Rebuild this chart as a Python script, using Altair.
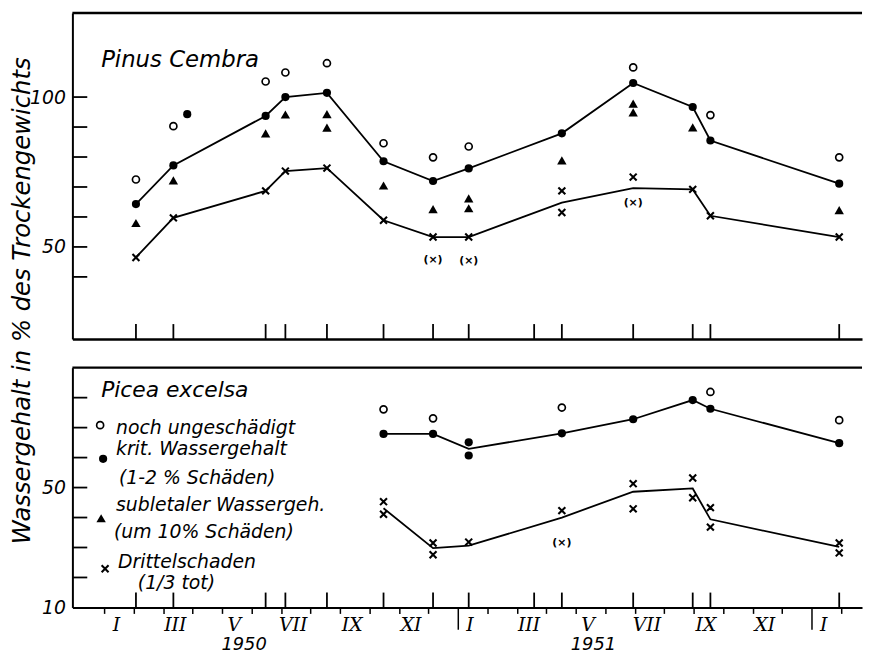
import altair as alt
import pandas as pd

# ---------------- data (x = months after 1 Jan 1950) ----------------
sample_months = [1.08, 2.35, 5.48, 6.15, 7.56, 9.48, 11.16, 12.37, 14.59, 15.53, 17.95, 19.97, 20.57, 24.94]

# Pinus cembra
pin_line_months = [1.08, 2.35, 5.48, 6.15, 7.56, 9.48, 11.16, 12.37, 15.53, 17.95, 19.97, 20.57, 24.94]
pin_krit_line = [64.3, 77.2, 93.7, 100.0, 101.4, 78.6, 72.0, 76.2, 87.9, 104.7, 96.7, 85.5, 71.1]
pin_drittel_line = [46.5, 59.7, 68.7, 75.3, 76.3, 58.9, 53.3, 53.3, 64.8, 69.6, 69.2, 60.4, 53.3]
pin_open_months = [1.08, 2.35, 5.48, 6.15, 7.56, 9.48, 11.16, 12.37, 17.95, 20.57, 24.94]
pin_open_values = [72.5, 90.3, 105.2, 108.2, 111.3, 84.6, 79.9, 83.5, 109.9, 94.0, 79.9]
pin_filled_months = [1.08, 2.35, 2.82, 5.48, 6.15, 7.56, 9.48, 11.16, 12.37, 15.53, 17.95, 19.97, 20.57, 24.94]
pin_filled_values = [64.3, 77.2, 94.3, 93.7, 100.0, 101.4, 78.6, 72.0, 76.2, 87.9, 104.7, 96.7, 85.5, 71.1]
pin_tri_months = [1.08, 2.35, 5.48, 6.15, 7.56, 7.56, 9.48, 11.16, 12.37, 12.37, 15.53, 17.95, 17.95, 19.97, 24.94]
pin_tri_values = [58.0, 72.2, 87.9, 94.2, 94.3, 89.8, 70.5, 62.6, 66.2, 62.9, 78.9, 97.8, 94.9, 89.9, 62.3]
pin_cross_months = [1.08, 2.35, 5.48, 6.15, 7.56, 9.48, 11.16, 12.37, 15.53, 15.53, 17.95, 19.97, 20.57, 24.94]
pin_cross_values = [46.5, 59.7, 68.7, 75.3, 76.3, 58.9, 53.3, 53.3, 68.7, 61.5, 73.3, 69.2, 60.4, 53.3]
pin_paren_months = [11.16, 12.37, 17.95]
pin_paren_values = [45.6, 45.3, 64.6]

# Picea excelsa
pic_line_months = [9.48, 11.16, 12.37, 15.53, 17.95, 19.97, 20.57, 24.94]
pic_krit_line = [67.9, 67.9, 62.9, 68.1, 72.8, 79.2, 76.3, 64.8]
pic_drittel_line = [43.1, 29.8, 30.6, 40.0, 48.6, 49.7, 39.4, 30.2]
pic_open_months = [9.48, 11.16, 15.53, 20.57, 24.94]
pic_open_values = [76.1, 73.1, 76.7, 81.9, 72.5]
pic_filled_months = [9.48, 11.16, 12.37, 12.37, 15.53, 17.95, 19.97, 20.57, 24.94]
pic_filled_values = [67.9, 67.9, 65.1, 60.7, 68.1, 72.8, 79.2, 76.3, 64.8]
pic_cross_months = [9.48, 9.48, 11.16, 11.16, 12.37, 15.53, 17.95, 17.95, 19.97, 19.97, 20.57, 20.57, 24.94, 24.94]
pic_cross_values = [45.3, 41.1, 31.5, 27.6, 31.8, 42.3, 51.3, 42.9, 53.2, 46.6, 43.3, 36.8, 31.5, 28.2]
pic_paren_months = [15.53]
pic_paren_values = [31.5]

# axis ticks / labels
pin_inner_ticks = [40, 50, 60, 70, 80, 90, 100]
pic_inner_ticks = [20, 30, 40, 50, 60, 70, 80]
month_bounds = list(range(0, 26))
roman_labels = ["I", "III", "V", "VII", "IX", "XI", "I", "III", "V", "VII", "IX", "XI", "I"]
roman_months = [0.5 + 2 * i for i in range(13)]
year_labels = ["1950", "1951"]
year_months = [4.75, 16.6]

# ---------------- layout ----------------
W = 797
X0 = -1.076
X1 = X0 + W / 29.75
H1, H2 = 329, 242
FONT = "DejaVu Sans"
CROSS = "M-1,-1L1,1M-1,1L1,-1"

XS = alt.Scale(domain=[X0, X1], nice=False, zero=False)
YS1 = alt.Scale(domain=[19.3, 128.05], nice=False, zero=False)
YS2 = alt.Scale(domain=[10, 90], nice=False, zero=False)
one = pd.DataFrame({"a": [0]})
NOVIEW = alt.ViewBackground(stroke="white", strokeOpacity=0, strokeWidth=1)

ylab = dict(ticks=False, domainWidth=2, domainColor="black", labelPadding=7, labelFont=FONT,
            labelFontStyle="italic", labelFontSize=19, labelColor="black", grid=False)

TOP_X = alt.Axis(labels=False, ticks=False, domainWidth=2.5, domainColor="black", title=None, grid=False)
TOP_Y = alt.Axis(values=[50, 100], title="Wassergehalt in % des Trockengewichts", titleFont=FONT,
                 titleFontStyle="italic", titleFontWeight="normal", titleFontSize=24.5, titleColor="black",
                 titleX=-38, titleY=290, titleBaseline="bottom", titleAngle=270, **ylab)

label_expr = "".join(f"datum.value == {m} ? '{r}' : " for m, r in zip(roman_months, roman_labels)) + "''"
BOT_X = alt.Axis(values=month_bounds + roman_months, labelExpr=label_expr,
                 tickSize={"condition": [{"test": "datum.value % 1 != 0", "value": 0},
                                         {"test": "datum.value == 12 || datum.value == 24", "value": 22}],
                           "value": 6},
                 tickWidth=1.5, tickColor="black", domainWidth=2, domainColor="black",
                 labelFont="DejaVu Serif", labelFontStyle="italic", labelFontSize=19, labelColor="black",
                 labelPadding=8, labelOffset=-3, labelOverlap=False, labelFlush=False, title=None, grid=False)
BOT_Y = alt.Axis(values=[10, 50], title=None, **ylab)


def dfr(ms, vs):
    return pd.DataFrame({"m": ms, "v": vs})


class Panel:
    def __init__(self, ys, xa, ya, H):
        self.ys, self.xa, self.ya, self.H = ys, xa, ya, H

    def X(self):
        return alt.X("m:Q", scale=XS, axis=self.xa)

    def Y(self):
        return alt.Y("v:Q", scale=self.ys, axis=self.ya)

    def xy(self):
        return dict(x=self.X(), y=self.Y())


def point_layers(p, om, ov, fm, fv, tm, tv, cm, cv, pm, pv):
    layers = []
    if om:
        layers.append(alt.Chart(dfr(om, ov)).mark_point(shape="circle", filled=False, color="black",
                                                         strokeWidth=1.7, size=50, opacity=1).encode(**p.xy()))
    if fm:
        layers.append(alt.Chart(dfr(fm, fv)).mark_point(shape="circle", filled=True, color="black",
                                                         size=68, opacity=1).encode(**p.xy()))
    if tm:
        layers.append(alt.Chart(dfr(tm, tv)).mark_point(shape="triangle-up", filled=True, color="black",
                                                         size=90, opacity=1).encode(**p.xy()))
    if cm:
        layers.append(alt.Chart(dfr(cm, cv)).mark_point(shape=CROSS, filled=False, color="black",
                                                         strokeWidth=2.1, size=49, opacity=1).encode(**p.xy()))
    if pm:
        layers.append(alt.Chart(dfr(pm, pv)).mark_text(text="(×)", font=FONT, fontSize=11, fontWeight="bold",
                                                        color="black").encode(**p.xy()))
    return layers


def line_layer(p, ms, vs):
    return alt.Chart(dfr(ms, vs)).mark_line(color="black", strokeWidth=1.8).encode(**p.xy())


def frame_layers(p, inner_ticks):
    sample = alt.Chart(pd.DataFrame({"m": sample_months})).mark_rule(color="black", strokeWidth=1.8).encode(
        x=p.X(), y=alt.value(p.H - 15), y2=alt.value(p.H))
    inner = alt.Chart(pd.DataFrame({"v": inner_ticks})).mark_rule(color="black", strokeWidth=1.8).encode(
        y=p.Y(), x=alt.value(0), x2=alt.value(15))
    top = alt.Chart(one).mark_rule(color="black", strokeWidth=2.4).encode(
        x=alt.value(0), x2=alt.value(W), y=alt.value(0), y2=alt.value(0))
    return [sample, inner, top]


def text_layer(txt, x, y, size=19):
    return alt.Chart(one).mark_text(text=txt, font=FONT, fontStyle="italic", fontSize=size, align="left",
                                    baseline="alphabetic", color="black").encode(x=alt.value(x), y=alt.value(y))


def sym_layer(x, y, **kw):
    return alt.Chart(one).mark_point(opacity=1, color="black", **kw).encode(x=alt.value(x), y=alt.value(y))


# ---------------- top panel: Pinus cembra ----------------
P1 = Panel(YS1, TOP_X, TOP_Y, H1)
top_layers = [line_layer(P1, pin_line_months, pin_krit_line),
              line_layer(P1, pin_line_months, pin_drittel_line)]
top_layers += frame_layers(P1, pin_inner_ticks)
top_layers += point_layers(P1, pin_open_months, pin_open_values, pin_filled_months, pin_filled_values,
                           pin_tri_months, pin_tri_values, pin_cross_months, pin_cross_values,
                           pin_paren_months, pin_paren_values)
top_layers.append(text_layer("Pinus Cembra", 29, 55, 23))
top = alt.layer(*top_layers).properties(width=W, height=H1, view=NOVIEW)

# ---------------- bottom panel: Picea excelsa ----------------
P2 = Panel(YS2, BOT_X, BOT_Y, H2)
bot_layers = [line_layer(P2, pic_line_months, pic_krit_line),
              line_layer(P2, pic_line_months, pic_drittel_line)]
bot_layers += frame_layers(P2, pic_inner_ticks)
bot_layers += point_layers(P2, pic_open_months, pic_open_values, pic_filled_months, pic_filled_values,
                           [], [], pic_cross_months, pic_cross_values, pic_paren_months, pic_paren_values)
bot_layers.append(alt.Chart(pd.DataFrame({"m": year_months, "t": year_labels})).mark_text(
    font=FONT, fontStyle="italic", fontSize=18, color="black", baseline="alphabetic").encode(
    x=P2.X(), y=alt.value(H2 + 43), text="t:N"))
# legend
bot_layers += [
    text_layer("Picea excelsa", 29, 30, 22),
    sym_layer(28, 58, shape="circle", filled=False, strokeWidth=1.7, size=50),
    text_layer("noch ungeschädigt", 44, 67),
    sym_layer(31, 92, shape="circle", filled=True, size=68),
    text_layer("krit. Wassergehalt", 44, 88),
    text_layer("(1-2 % Schäden)", 47, 117),
    sym_layer(29, 152, shape="triangle-up", filled=True, size=90),
    text_layer("subletaler Wassergeh.", 44, 145),
    text_layer("(um 10% Schäden)", 42, 172),
    sym_layer(33, 203, shape=CROSS, filled=False, strokeWidth=2.1, size=49),
    text_layer("Drittelschaden", 46, 202),
    text_layer("(1/3 tot)", 66, 223),
]
bottom = alt.layer(*bot_layers).properties(width=W, height=H2, view=NOVIEW)

chart = alt.vconcat(top, bottom, spacing=29, bounds="flush").properties(
    padding={"left": 1, "top": 0, "right": 0, "bottom": 0}
).configure_view(stroke="white", strokeOpacity=0, strokeWidth=1).configure(background="white")

chart.save("out.html", embed_options={"renderer": "svg", "actions": False})
